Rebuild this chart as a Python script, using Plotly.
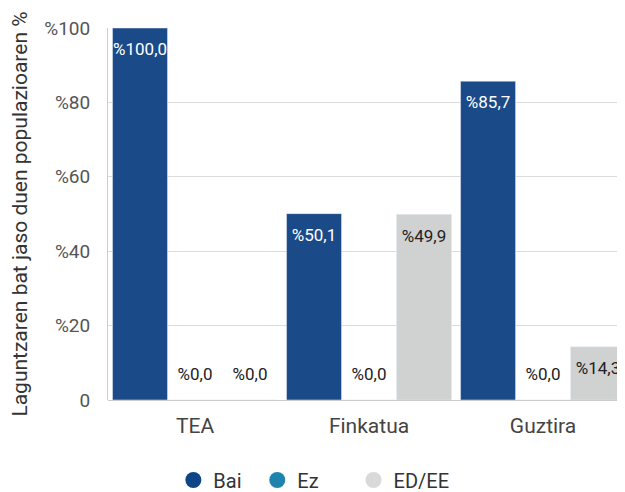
import plotly.graph_objects as go

categories = ["TEA", "Finkatua", "Guztira"]
series_names = ["Bai", "Ez", "ED/EE"]
bai = [100.0, 50.1, 85.7]
ez = [0.0, 0.0, 0.0]
eded = [0.0, 49.9, 14.3]
y_ticks = [0, 20, 40, 60, 80, 100]
y_tick_labels = ["0", "%20", "%40", "%60", "%80", "%100"]

bar_colors = ["#1b4a89", "#1f84ad", "#d0d1d1"]
legend_colors = ["#0d4587", "#1f84ad", "#d9d9d9"]
label_colors = ["#ffffff", "#ffffff", "#222222"]
legend_ids = ["legend", "legend2", "legend3"]
legend_x = [0.268, 0.404, 0.560]
FONT = "Roboto"
NB = "\u00a0"

def fmt(v):
    return "%" + f"{v:.1f}".replace(".", ",")

def label(v):
    big = "<span style='font-size:17px'>" + fmt(v) + "</span>"
    if v > 0:
        return NB + "<br>" + NB + "<br>" + big
    return big + "<br> "

fig = go.Figure()
for name, vals, col, lcol in zip(series_names, [bai, ez, eded], bar_colors, label_colors):
    fig.add_trace(go.Bar(
        x=categories, y=vals, name=name, marker_color=col, showlegend=False,
        text=[label(v) for v in vals],
        textposition=["inside" if v > 0 else "outside" for v in vals],
        insidetextanchor="end", textangle=0,
        insidetextfont=dict(family=FONT, size=7, color=lcol),
        outsidetextfont=dict(family=FONT, size=11, color="#222222"),
        constraintext="none", cliponaxis=False,
        hoverinfo="skip",
    ))

for name, col, lid in zip(series_names, legend_colors, legend_ids):
    fig.add_trace(go.Scatter(
        x=[None], y=[None], mode="markers", name=name, legend=lid,
        marker=dict(symbol="circle", size=18, color=col),
    ))

legend_common = dict(orientation="h", xref="container", yref="container",
                     xanchor="left", y=0.0248, yanchor="middle",
                     font=dict(family=FONT, size=20, color="#333333"),
                     bgcolor="rgba(0,0,0,0)")

fig.update_layout(
    width=617, height=484,
    margin=dict(l=100, r=0, t=20, b=92, autoexpand=False),
    paper_bgcolor="white", plot_bgcolor="white",
    barmode="group", bargap=0.052, bargroupgap=0.0,
    font=dict(family=FONT, size=18, color="#333333"),
    legend=dict(x=legend_x[0], **legend_common),
    legend2=dict(x=legend_x[1], **legend_common),
    legend3=dict(x=legend_x[2], **legend_common),
    xaxis=dict(showgrid=False, showline=False, ticks="", automargin=False,
               range=[-0.5, 2.471], ticklabelstandoff=11,
               tickfont=dict(family=FONT, size=21, color="#444444")),
    yaxis=dict(range=[0, 100], tickvals=y_ticks, ticktext=y_tick_labels,
               automargin=False,
               showgrid=True, gridcolor="#dcdcdc", gridwidth=1,
               showline=True, linecolor="#cccccc", linewidth=1,
               zeroline=True, zerolinecolor="#cccccc", zerolinewidth=1,
               ticks="", ticklabelstandoff=13,
               tickfont=dict(family=FONT, size=19, color="#555555"),
               title=dict(text="Laguntzaren bat jaso duen populazioaren %",
                          font=dict(family=FONT, size=21, color="#333333"),
                          standoff=10)),
)

fig.write_html("out.html")
